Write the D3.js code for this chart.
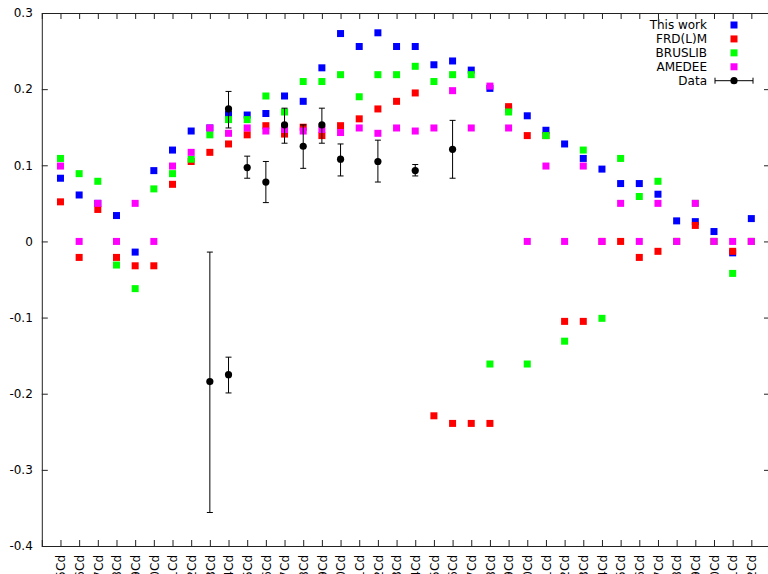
<!DOCTYPE html>
<html>
<head>
<meta charset="utf-8">
<script src="https://cdn.jsdelivr.net/npm/d3@7"></script>
<style>
  html, body { margin: 0; padding: 0; background: #fff; overflow: hidden; }
  svg { display: block; font-family: "DejaVu Sans", sans-serif; }
</style>
</head>
<body>
<svg id="chart" width="768" height="574"></svg>
<script>
// Cadmium isotopes along the x axis
const isotopes = [
  "95Cd","96Cd","97Cd","98Cd","99Cd","100Cd","101Cd","102Cd","103Cd","104Cd",
  "105Cd","106Cd","107Cd","108Cd","109Cd","110Cd","111Cd","112Cd","113Cd","114Cd",
  "115Cd","116Cd","117Cd","118Cd","119Cd","120Cd","121Cd","122Cd","123Cd","124Cd",
  "125Cd","126Cd","127Cd","128Cd","129Cd","130Cd","131Cd","132Cd"
];

// Model deformations, one value per isotope
const thisWork = [
  0.083, 0.061, 0.050, 0.034, -0.014, 0.093, 0.120, 0.145, 0.149, 0.167,
  0.166, 0.168, 0.191, 0.184, 0.228, 0.273, 0.256, 0.274, 0.256, 0.256,
  0.232, 0.237, 0.225, 0.201, 0.174, 0.165, 0.146, 0.128, 0.109, 0.095,
  0.076, 0.076, 0.062, 0.027, 0.026, 0.013, -0.015, 0.030
];
const frdlm = [
  0.052, -0.021, 0.042, -0.021, -0.032, -0.032, 0.075, 0.105, 0.117, 0.128,
  0.140, 0.152, 0.141, 0.150, 0.139, 0.152, 0.161, 0.174, 0.184, 0.195,
  -0.229, -0.239, -0.239, -0.239, 0.177, 0.139, 0.139, -0.105, -0.105, 0.0,
  0.0, -0.021, -0.013, 0.0, 0.021, 0.0, -0.013, 0.0
];
const bruslib = [
  0.109, 0.089, 0.079, -0.031, -0.062, 0.069, 0.089, 0.108, 0.140, 0.160,
  0.160, 0.191, 0.170, 0.210, 0.210, 0.219, 0.190, 0.219, 0.219, 0.230,
  0.210, 0.219, 0.219, -0.161, 0.170, -0.161, 0.139, -0.131, 0.120, -0.101,
  0.109, 0.059, 0.079, 0.0, 0.050, 0.0, -0.042, 0.0
];
const amedee = [
  0.099, 0.0, 0.050, 0.0, 0.050, 0.0, 0.099, 0.117, 0.149, 0.142,
  0.149, 0.145, 0.147, 0.145, 0.147, 0.143, 0.149, 0.142, 0.149, 0.145,
  0.149, 0.198, 0.149, 0.204, 0.149, 0.0, 0.099, 0.0, 0.099, 0.0,
  0.050, 0.0, 0.050, 0.0, 0.050, 0.0, 0.0, 0.0
];

// Measured values with their error ranges
const dataIsotopes = ["103Cd","104Cd","104Cd","105Cd","106Cd","107Cd","108Cd","109Cd","110Cd","112Cd","114Cd","116Cd"];
const dataValues   = [-0.184, 0.174, -0.175, 0.097, 0.078, 0.153, 0.125, 0.153, 0.108, 0.105, 0.093, 0.121];
const dataLow      = [-0.356, 0.149, -0.199, 0.083, 0.051, 0.129, 0.096, 0.129, 0.086, 0.078, 0.086, 0.083];
const dataHigh     = [-0.014, 0.197, -0.152, 0.112, 0.105, 0.175, 0.153, 0.175, 0.128, 0.133, 0.101, 0.159];

const yTicks = [-0.4, -0.3, -0.2, -0.1, 0, 0.1, 0.2, 0.3];

const seriesNames  = ["This work", "FRD(L)M", "BRUSLIB", "AMEDEE"];
const seriesColors = ["#0000ff", "#ff0000", "#00ff00", "#ff00ff"];
const seriesValues = [thisWork, frdlm, bruslib, amedee];

const svg = d3.select("#chart");
const plotLeft = 41.8, plotRight = 770, plotTop = 13, plotBottom = 546;

const x = d3.scalePoint().domain(isotopes).range([plotLeft, plotRight]).padding(1);
const y = d3.scaleLinear().domain([-0.4, 0.3]).range([plotBottom, plotTop]);

const fmt = d => (d === 0 ? "0" : d.toFixed(1));
const axisColor = "#222";

// Frame and axes
const gLeft = svg.append("g").attr("transform", `translate(${plotLeft},0)`)
  .call(d3.axisLeft(y).tickValues(yTicks).tickSize(-6).tickPadding(9).tickFormat(fmt));
const gRight = svg.append("g").attr("transform", `translate(${plotRight},0)`)
  .call(d3.axisRight(y).tickValues(yTicks).tickSize(-6).tickFormat(""));
const gBottom = svg.append("g").attr("transform", `translate(0,${plotBottom})`)
  .call(d3.axisBottom(x).tickSize(-6).tickPadding(9));
const gTop = svg.append("g").attr("transform", `translate(0,${plotTop})`)
  .call(d3.axisTop(x).tickSize(-6).tickFormat(""));

[gLeft, gRight, gBottom, gTop].forEach(g => {
  g.select(".domain").attr("stroke", axisColor).attr("stroke-width", 1);
  g.selectAll(".tick line").attr("stroke", axisColor).attr("stroke-width", 1);
  g.selectAll(".tick text").attr("fill", "#000").attr("font-size", 12)
    .attr("font-family", "DejaVu Sans, sans-serif");
});

gBottom.selectAll(".tick text")
  .attr("transform", "rotate(-90)")
  .attr("text-anchor", "end")
  .attr("x", -9)
  .attr("y", 0)
  .attr("dy", "0.35em");

// Model points as squares
const sq = 7;
seriesValues.forEach((vals, i) => {
  svg.append("g").selectAll("rect")
    .data(vals.map((v, j) => ({ iso: isotopes[j], v })).filter(d => d.v !== null))
    .join("rect")
    .attr("x", d => x(d.iso) - sq / 2)
    .attr("y", d => y(d.v) - sq / 2)
    .attr("width", sq)
    .attr("height", sq)
    .attr("fill", seriesColors[i]);
});

// Measurements with error bars
const meas = dataValues.map((v, i) => ({ iso: dataIsotopes[i], v, lo: dataLow[i], hi: dataHigh[i] }));
const gData = svg.append("g").attr("stroke", "#000").attr("stroke-width", 1);
gData.selectAll("line.bar").data(meas).join("line").attr("class", "bar")
  .attr("x1", d => x(d.iso)).attr("x2", d => x(d.iso))
  .attr("y1", d => y(d.lo)).attr("y2", d => y(d.hi));
gData.selectAll("line.capLo").data(meas).join("line").attr("class", "capLo")
  .attr("x1", d => x(d.iso) - 3).attr("x2", d => x(d.iso) + 3)
  .attr("y1", d => y(d.lo)).attr("y2", d => y(d.lo));
gData.selectAll("line.capHi").data(meas).join("line").attr("class", "capHi")
  .attr("x1", d => x(d.iso) - 3).attr("x2", d => x(d.iso) + 3)
  .attr("y1", d => y(d.hi)).attr("y2", d => y(d.hi));
svg.append("g").selectAll("circle").data(meas).join("circle")
  .attr("cx", d => x(d.iso)).attr("cy", d => y(d.v)).attr("r", 3.6).attr("fill", "#000");

// Legend
const legend = svg.append("g").attr("font-size", 12).attr("fill", "#000");
const legendRowY = d3.scaleLinear().domain([0, 4]).range([25, 80.7]);
const legendTextX = 707, legendSampleX = 734;
seriesNames.forEach((name, i) => {
  legend.append("text").attr("x", legendTextX).attr("y", legendRowY(i)).attr("dy", "0.35em")
    .attr("text-anchor", "end").text(name);
  legend.append("rect")
    .attr("x", legendSampleX - sq / 2).attr("y", legendRowY(i) - sq / 2)
    .attr("width", sq).attr("height", sq).attr("fill", seriesColors[i]);
});
const ly = legendRowY(4);
legend.append("text").attr("x", legendTextX).attr("y", ly).attr("dy", "0.35em")
  .attr("text-anchor", "end").text("Data");
const lg = legend.append("g").attr("stroke", "#000").attr("stroke-width", 1);
lg.append("line").attr("x1", 715).attr("x2", 753).attr("y1", ly).attr("y2", ly);
lg.append("line").attr("x1", 715).attr("x2", 715).attr("y1", ly - 3).attr("y2", ly + 3);
lg.append("line").attr("x1", 753).attr("x2", 753).attr("y1", ly - 3).attr("y2", ly + 3);
legend.append("circle").attr("cx", legendSampleX).attr("cy", ly).attr("r", 3.6).attr("fill", "#000");
</script>
</body>
</html>
